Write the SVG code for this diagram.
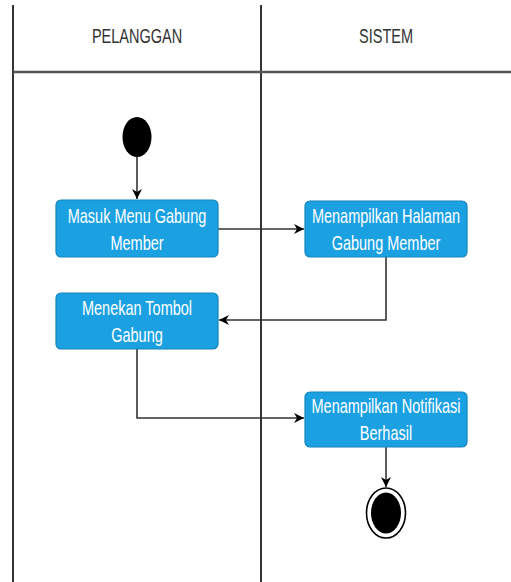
<svg xmlns="http://www.w3.org/2000/svg" width="511" height="582" viewBox="0 0 511 582">
<defs>
<marker id="arr" markerWidth="12" markerHeight="12" refX="10" refY="6" orient="auto" markerUnits="userSpaceOnUse">
<path d="M0,1 L10,6 L0,11 L3,6 Z" fill="#000"/>
</marker>
<style>
.lane{stroke:#333;stroke-width:2;fill:none}
.hdr{font-family:"Liberation Sans",Arial,sans-serif;font-size:14.5px;fill:#333;text-anchor:middle}
.act{fill:#1BA1E2;stroke:#1585BC;stroke-width:1.2}
.lbl{font-family:"Liberation Sans",Arial,sans-serif;font-size:14.5px;fill:#fff;text-anchor:middle}
.con{stroke:#333;stroke-width:1.6;fill:none}
</style>
</defs>
<rect width="511" height="582" fill="#fff"/>
<g id="lanes">
<line class="lane" x1="13" y1="5" x2="13" y2="582"/>
<line class="lane" x1="261" y1="5" x2="261" y2="582"/>
<line class="lane" x1="13" y1="72" x2="511" y2="72" style="stroke:#555;stroke-width:2.5"/>
<text class="hdr" transform="translate(137,43) scale(1,1.4)">PELANGGAN</text>
<text class="hdr" transform="translate(386,43) scale(1,1.4)">SISTEM</text>
</g>
<g id="connectors">
<line class="con" x1="137" y1="157" x2="137" y2="199" marker-end="url(#arr)"/>
<line class="con" x1="218" y1="229" x2="304" y2="229" marker-end="url(#arr)"/>
<polyline class="con" points="386,257 386,320 219,320" marker-end="url(#arr)"/>
<polyline class="con" points="137,349 137,418 304,418" marker-end="url(#arr)"/>
<line class="con" x1="386" y1="447" x2="386" y2="487" marker-end="url(#arr)"/>
</g>
<g id="start">
<ellipse cx="137" cy="137" rx="14.5" ry="20" fill="#000"/>
</g>
<g id="n1">
<rect class="act" x="56" y="200" width="162" height="57" rx="5"/>
<text class="lbl" transform="translate(137,223) scale(1,1.4)">Masuk Menu Gabung</text>
<text class="lbl" transform="translate(137,250) scale(1,1.4)">Member</text>
</g>
<g id="n2">
<rect class="act" x="305" y="201" width="162" height="56" rx="5"/>
<text class="lbl" transform="translate(386,223) scale(1,1.4)">Menampilkan Halaman</text>
<text class="lbl" transform="translate(386,250) scale(1,1.4)">Gabung Member</text>
</g>
<g id="n3">
<rect class="act" x="56" y="293" width="162" height="56" rx="5"/>
<text class="lbl" transform="translate(137,315) scale(1,1.4)">Menekan Tombol</text>
<text class="lbl" transform="translate(137,342) scale(1,1.4)">Gabung</text>
</g>
<g id="n4">
<rect class="act" x="305" y="392" width="162" height="55" rx="5"/>
<text class="lbl" transform="translate(386,413) scale(1,1.4)">Menampilkan Notifikasi</text>
<text class="lbl" transform="translate(386,440) scale(1,1.4)">Berhasil</text>
</g>
<g id="end">
<ellipse cx="386" cy="513" rx="19.5" ry="25" fill="#fff" stroke="#000" stroke-width="1.6"/>
<ellipse cx="386" cy="513" rx="15" ry="20.5" fill="#000"/>
</g>
</svg>
